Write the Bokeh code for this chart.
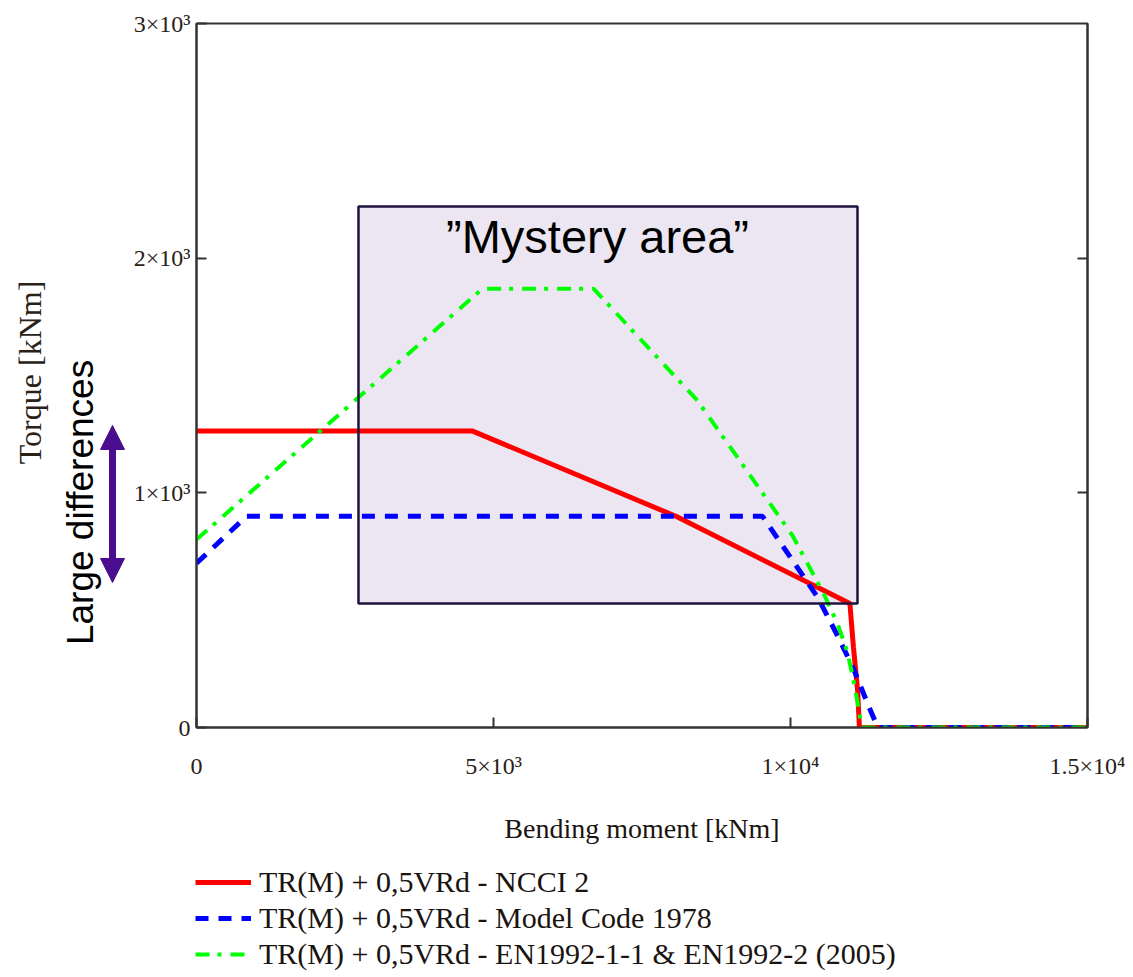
from bokeh.plotting import figure
from bokeh.models import (Range1d, FixedTicker, LinearAxis, Legend, LegendItem,
                          BoxAnnotation, Label, Arrow, NormalHead)
from bokeh.layouts import column, row
from bokeh.embed import file_html
from bokeh.resources import INLINE
import math

# ---- data ----
ncci_x = [0, 4650, 8080, 11000, 11060, 11130, 11160, 15000]
ncci_y = [1263, 1263, 899, 528, 341, 158, 0, 0]

mc_x = [0, 840, 9530, 10470, 10790, 11060, 11310, 11470, 15000]
mc_y = [700, 900, 900, 550, 392, 251, 94, 0, 0]

en_x = [0, 4815, 6684, 8434, 10034, 10556, 10791, 10960, 11061, 11162, 11195, 15000]
en_y = [801, 1870, 1870, 1393, 818, 571, 443, 320, 200, 60, 0, 0]

series_names = ["TR(M) + 0,5VRd - NCCI 2",
                "TR(M) + 0,5VRd - Model Code 1978",
                "TR(M) + 0,5VRd - EN1992-1-1 & EN1992-2 (2005)"]

x_ticks = [0, 5000, 10000, 15000]
x_tick_labels = ["0", "5×10³", "1×10⁴", "1.5×10⁴"]
y_ticks = [0, 1000, 2000, 3000]
y_tick_labels = ["0", "1×10³", "2×10³", "3×10³"]

# annotation box ("Mystery area") in data units
box_left, box_right, box_bottom, box_top = 2727, 11128, 528, 2220
# "Large differences" arrow, torque range in data units
arrow_low, arrow_high = 618, 1287

SERIF = "Liberation Serif"
SANS = "Liberation Sans"
TICK_COLOR = "#2a2118"
LINE_COLOR = "#333333"

TOP, BOTTOM = 23, 125
LEFT_W = 130
MAIN_W = 1133 - LEFT_W
PLOT_H = 852

yr = Range1d(0, 3000)

# ---------------- main plot ----------------
p = figure(width=MAIN_W, height=PLOT_H, output_backend="svg", toolbar_location=None,
           x_range=Range1d(0, 15000), y_range=yr,
           min_border_left=66, min_border_right=46, min_border_top=TOP,
           min_border_bottom=BOTTOM)
p.grid.visible = False
p.outline_line_color = LINE_COLOR
p.outline_line_width = 2

for ax in (p.xaxis[0], p.yaxis[0]):
    ax.major_tick_in = 10
    ax.major_tick_out = 0
    ax.minor_tick_line_color = None
    ax.axis_line_color = LINE_COLOR
    ax.axis_line_width = 2
    ax.major_tick_line_color = LINE_COLOR
    ax.major_tick_line_width = 2
    ax.major_label_text_font = SERIF
    ax.major_label_text_font_size = "24px"
    ax.major_label_text_color = TICK_COLOR
    ax.axis_label_text_font = SERIF
    ax.axis_label_text_font_style = "normal"
    ax.axis_label_text_font_size = "28px"
    ax.axis_label_text_color = "#1a1410"

p.xaxis[0].ticker = FixedTicker(ticks=x_ticks)
p.xaxis[0].major_label_overrides = dict(zip(x_ticks, x_tick_labels))
p.xaxis[0].major_label_standoff = 25
p.xaxis[0].axis_label = "Bending moment [kNm]"
p.xaxis[0].axis_label_standoff = 31

p.yaxis[0].ticker = FixedTicker(ticks=y_ticks)
p.yaxis[0].major_label_overrides = dict(zip(y_ticks, y_tick_labels))
p.yaxis[0].major_label_standoff = 6

right_axis = LinearAxis(ticker=FixedTicker(ticks=[1000, 2000]),
                        major_label_overrides={1000: "", 2000: ""},
                        major_label_text_color=None,
                        major_tick_in=10, major_tick_out=0,
                        minor_tick_line_color=None,
                        axis_line_color=LINE_COLOR, axis_line_width=2,
                        major_tick_line_color=LINE_COLOR, major_tick_line_width=2)
p.add_layout(right_axis, "right")

# box fill below lines, border above
p.add_layout(BoxAnnotation(left=box_left, right=box_right, bottom=box_bottom, top=box_top,
                           fill_color="#ebe6f1", fill_alpha=1.0, line_color=None,
                           level="underlay"))

STYLES = [dict(line_color="#ff0000", line_width=5),
          dict(line_color="#0000ff", line_width=5, line_dash="13 10"),
          dict(line_color="#00ff00", line_width=4, line_dash="14 8 4 9")]

r1 = p.line(ncci_x, ncci_y, **STYLES[0])
r2 = p.line(mc_x, mc_y, **STYLES[1])
r3 = p.line(en_x, en_y, **STYLES[2])

p.add_layout(BoxAnnotation(left=box_left, right=box_right, bottom=box_bottom, top=box_top,
                           fill_alpha=0.0, line_color="#20123f", line_alpha=1.0,
                           line_width=2.5))

p.add_layout(Label(x=6751, y=2092, text="”Mystery area”",
                   text_font=SANS, text_font_size="47px", text_color="black",
                   text_align="center", text_baseline="middle"))

# ---------------- left strip (axis title, note, arrow) ----------------
lf = figure(width=LEFT_W, height=PLOT_H, output_backend="svg", toolbar_location=None,
            x_range=Range1d(0, LEFT_W), y_range=yr,
            min_border_left=0, min_border_right=0, min_border_top=TOP,
            min_border_bottom=BOTTOM)
lf.xaxis.visible = False
lf.yaxis.visible = False
lf.grid.visible = False
lf.outline_line_color = None

lf.add_layout(Label(x=29, y=1513, text="Torque [kNm]", angle=math.pi / 2,
                    text_font=SERIF, text_font_size="32px", text_color="#2a2118",
                    text_align="center", text_baseline="middle"))
lf.add_layout(Label(x=80, y=959, text="Large differences", angle=math.pi / 2,
                    text_font=SANS, text_font_size="37px", text_color="black",
                    text_align="center", text_baseline="middle"))

arrow_color = "#4a0d8f"
mid = (arrow_low + arrow_high) / 2
for end_y in (arrow_high, arrow_low):
    lf.add_layout(Arrow(x_start=112, y_start=mid, x_end=112, y_end=end_y,
                        line_color=arrow_color, line_width=7,
                        end=NormalHead(size=24, fill_color=arrow_color,
                                       line_color=arrow_color)))

# ---------------- legend strip ----------------
lg = figure(width=1133, height=977 - PLOT_H, output_backend="svg", toolbar_location=None,
            x_range=Range1d(0, 1), y_range=Range1d(0, 1),
            min_border=0)
lg.xaxis.visible = False
lg.yaxis.visible = False
lg.grid.visible = False
lg.outline_line_color = None

# legend proxies (placed outside the visible range of this strip)
proxy = [5, 6]
g1 = lg.line(proxy, proxy, **STYLES[0])
g2 = lg.line(proxy, proxy, **STYLES[1])
g3 = lg.line(proxy, proxy, **STYLES[2])

legend = Legend(items=[LegendItem(label=series_names[0], renderers=[g1]),
                       LegendItem(label=series_names[1], renderers=[g2]),
                       LegendItem(label=series_names[2], renderers=[g3])],
                location=(195, 6), orientation="vertical",
                label_text_font=SERIF, label_text_font_size="30px",
                label_text_color="#1a1410",
                glyph_width=56, glyph_height=28, label_height=28, spacing=2,
                label_standoff=8, padding=0, margin=0,
                border_line_color=None, background_fill_alpha=0.0)
lg.add_layout(legend, "center")

layout = column(row(lf, p, spacing=0), lg, spacing=0)
open("out.html", "w").write(file_html(layout, INLINE))
